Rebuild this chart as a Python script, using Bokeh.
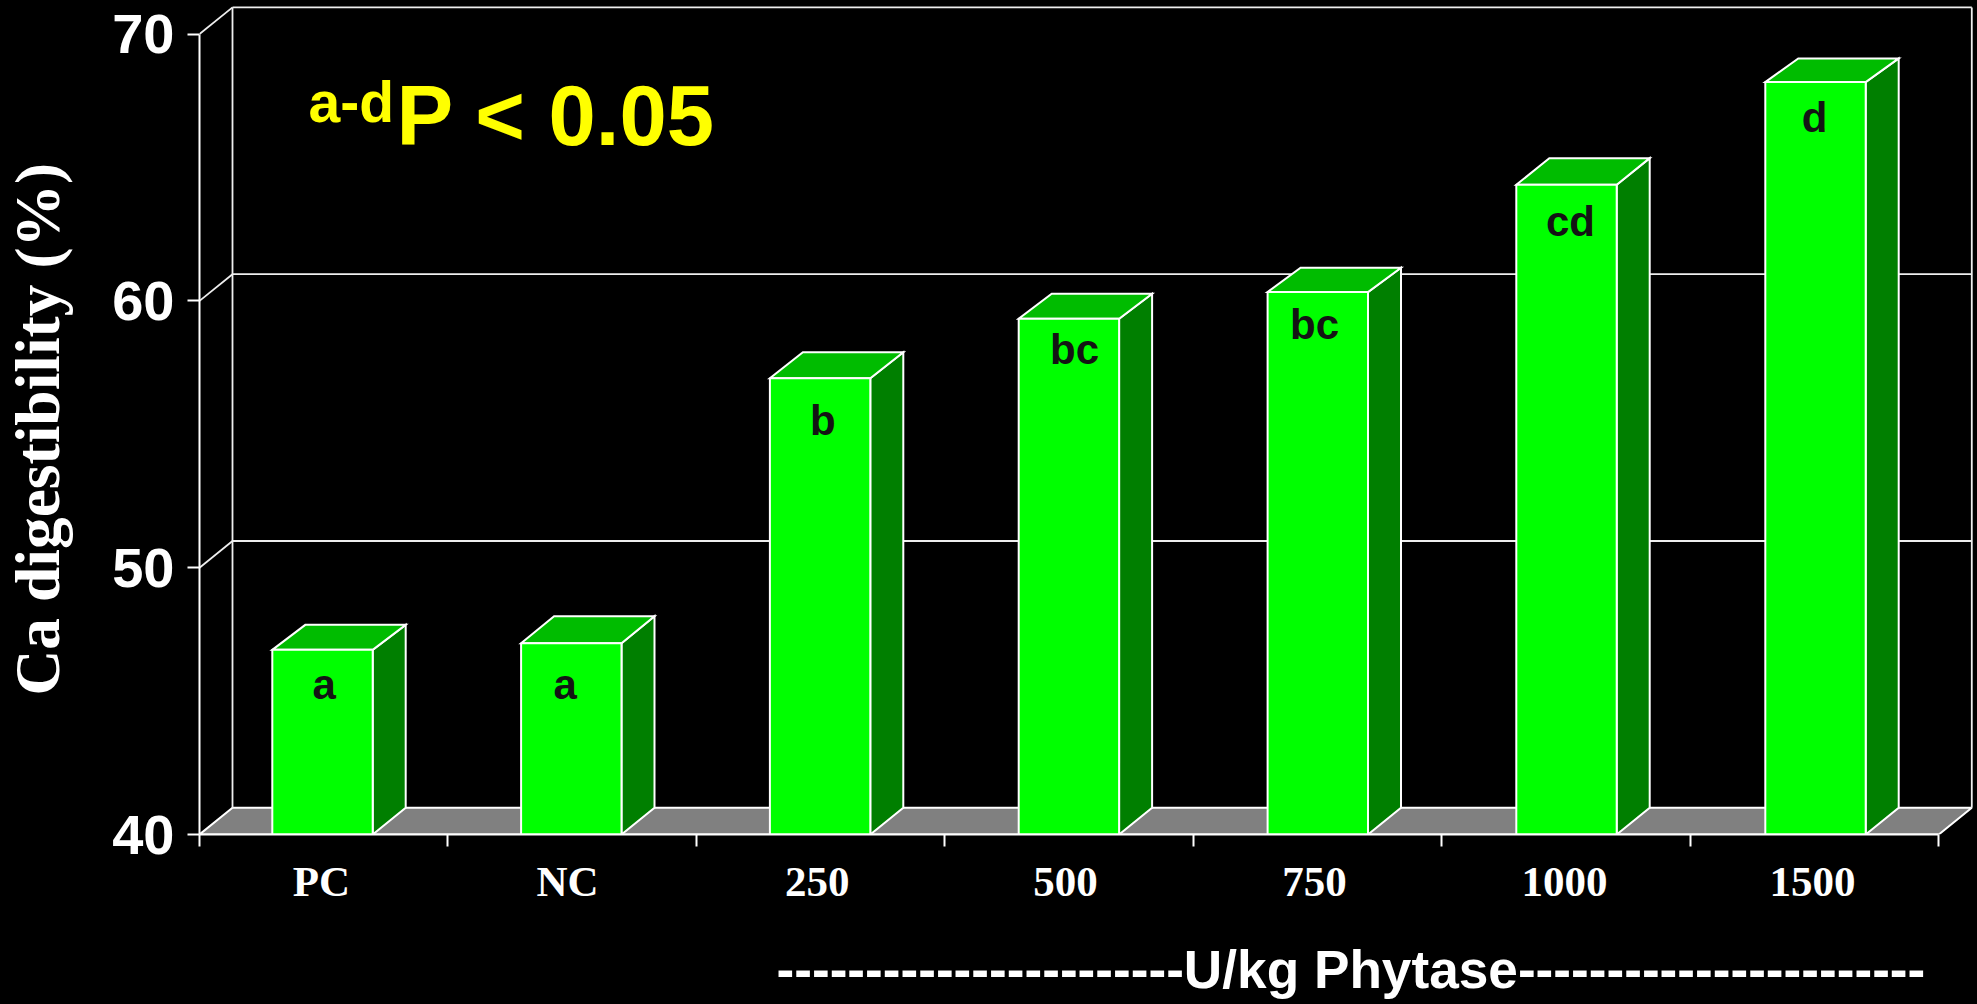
from bokeh.plotting import figure
from bokeh.models import ColumnDataSource, FixedTicker, Label, LinearAxis, Range1d, Title
from bokeh.core.properties import value
from bokeh.embed import file_html
from bokeh.resources import INLINE

# ---- data ----
categories = ["PC", "NC", "250", "500", "750", "1000", "1500"]
digestibility = [46.92, 47.17, 57.1, 59.33, 60.33, 64.35, 68.2]
significance = ["a", "a", "b", "bc", "bc", "cd", "d"]
y_ticks = [40, 50, 60, 70]

# ---- layout (page pixels) ----
W, H = 1977, 1004
SPARE = 40                  # blank canvas kept past the left and bottom page edges
FRAME_L, FRAME_R, FRAME_T, FRAME_B = 199, 1975, 3, 834
PX_PER_CAT = 248.47
PX_PER_UNIT = 26.68
BASE_FIX = 0.36             # baseline correction of the SVG text, in em
px2x = lambda px: (px - FRAME_L) / PX_PER_CAT
px2y = lambda py: 40 + (FRAME_B - py) / PX_PER_UNIT

bar_center_px = [322, 570.8, 819.6, 1068.4, 1317.3, 1566, 1815]
bar_depth_px = [25, 27, 26, 25, 24.3, 26.7, 23.7]
letter_center_px = [323.7, 564.7, 822.3, 1074, 1314, 1570, 1814]
letter_base_px = [699.3, 699.3, 435, 364.3, 339, 236, 131.7]
cat_label_px = [320.8, 567, 816.7, 1065, 1314, 1564, 1812]

DX = 33 / PX_PER_CAT        # depth of the chart box, in x units
DY = 1.0                    # depth of the chart box, in y units
BAR_W = 100.4 / PX_PER_CAT
WHITE = "#ffffff"
LW = 2

p = figure(
    width=W + SPARE, height=H + SPARE, output_backend="svg", toolbar_location=None,
    x_range=Range1d(0, (FRAME_R - FRAME_L) / PX_PER_CAT),
    y_range=Range1d(40, 40 + (FRAME_B - FRAME_T) / PX_PER_UNIT),
    x_axis_location=None, y_axis_location=None,
    min_border_left=FRAME_L + SPARE, min_border_right=W - FRAME_R,
    min_border_top=FRAME_T, min_border_bottom=H - FRAME_B + SPARE,
    background_fill_color="#000000", border_fill_color="#000000",
    outline_line_color=None,
)
p.grid.visible = False

# floor
p.patch([0, DX, 7 + DX, 7], [40, 40 + DY, 40 + DY, 40],
        fill_color="#808080", line_color=WHITE, line_width=LW)

# back walls
grid_v = [v for v in y_ticks if v > 40]
p.segment(x0=[DX] * len(grid_v), y0=[v + DY for v in grid_v],
          x1=[7 + DX] * len(grid_v), y1=[v + DY for v in grid_v],
          line_color="#eeeeee", line_width=1.8)
p.segment(x0=[0] * len(grid_v), y0=grid_v,
          x1=[DX] * len(grid_v), y1=[v + DY for v in grid_v],
          line_color="#eeeeee", line_width=1.8)
p.segment(x0=[DX, 7 + DX], y0=[40 + DY] * 2, x1=[DX, 7 + DX], y1=[70 + DY] * 2,
          line_color="#eeeeee", line_width=1.8)

# 3-D bars
xc = [px2x(c) for c in bar_center_px]
left = [x - BAR_W / 2 for x in xc]
right = [x + BAR_W / 2 for x in xc]
dy = [d / PX_PER_UNIT for d in bar_depth_px]
p.patches(
    xs=[[r, r + DX, r + DX, r] for r in right],
    ys=[[40, 40 + DY, v + d, v] for v, d in zip(digestibility, dy)],
    fill_color="#007f00", line_color=WHITE, line_width=LW, line_join="miter",
)
p.patches(
    xs=[[l, r, r + DX, l + DX] for l, r in zip(left, right)],
    ys=[[v, v, v + d, v + d] for v, d in zip(digestibility, dy)],
    fill_color="#00bc00", line_color=WHITE, line_width=LW, line_join="miter",
)
src = ColumnDataSource(dict(x=xc, top=digestibility, cat=categories))
p.vbar(x="x", top="top", bottom=40, width=BAR_W, source=src,
       fill_color="#00ff00", line_color=WHITE, line_width=LW)

# significance letters on the bars
LETTER_SIZE = 42
p.text(x=[px2x(c) for c in letter_center_px],
       y=[px2y(b - BASE_FIX * LETTER_SIZE) for b in letter_base_px],
       text=significance, text_align="center", text_baseline="alphabetic",
       text_font=value("Liberation Sans"), text_font_style="bold",
       text_font_size=f"{LETTER_SIZE}px", text_color="#141414")

# axes
yax = LinearAxis(
    ticker=FixedTicker(ticks=y_ticks), bounds=(40, 70),
    major_label_text_font="Liberation Sans", major_label_text_font_style="bold",
    major_label_text_font_size="56px", major_label_text_color=WHITE,
    major_label_standoff=13,
    axis_line_color=WHITE, axis_line_width=LW,
    major_tick_line_color=WHITE, major_tick_line_width=LW,
    major_tick_in=0, major_tick_out=12, minor_tick_line_color=None,
)
p.add_layout(yax, "left")

label_ticks = [round(px2x(c), 5) for c in cat_label_px]
xax = LinearAxis(
    ticker=FixedTicker(ticks=label_ticks, minor_ticks=list(range(8))), bounds=(0, 7),
    major_label_overrides=dict(zip(label_ticks, categories)),
    major_label_text_font="Liberation Serif", major_label_text_font_style="bold",
    major_label_text_font_size="43px", major_label_text_color=WHITE,
    major_label_standoff=11,
    axis_line_color=WHITE, axis_line_width=LW,
    major_tick_line_color=None, major_tick_in=0, major_tick_out=0,
    minor_tick_line_color=WHITE, minor_tick_line_width=LW,
    minor_tick_in=0, minor_tick_out=12,
)
p.add_layout(xax, "below")

# annotations inside the plot
def note(text, x_px, base_px, size, color):
    p.add_layout(Label(
        x=px2x(x_px), y=px2y(base_px - BASE_FIX * size), text=text,
        text_font="Liberation Sans", text_font_style="bold",
        text_font_size=f"{size}px", text_color=color,
        text_align="left", text_baseline="alphabetic",
    ))

note("a-d", 308, 121.7, 57, "#ffff00")
note("P < 0.05", 396, 145.7, 85, "#ffff00")

# titles outside the plot
p.add_layout(Title(
    text="Ca digestibility (%)", align="left", offset=139, standoff=73,
    text_font="Liberation Serif", text_font_style="bold",
    text_font_size="63.5px", text_color=WHITE,
), "left")
p.add_layout(Title(
    text="-" * 23 + "U/kg Phytase" + "-" * 23, align="left", offset=577, standoff=61,
    text_font="Liberation Sans", text_font_style="bold",
    text_font_size="53.2px", text_color=WHITE,
), "below")

html = file_html(p, INLINE)
style = ("<style>html,body{margin:0;padding:0;background:#000;overflow:hidden;height:100%}"
         "body{margin-left:-" + str(SPARE) + "px}</style></head>")
html = html.replace("</head>", style, 1)
open("out.html", "w").write(html)
